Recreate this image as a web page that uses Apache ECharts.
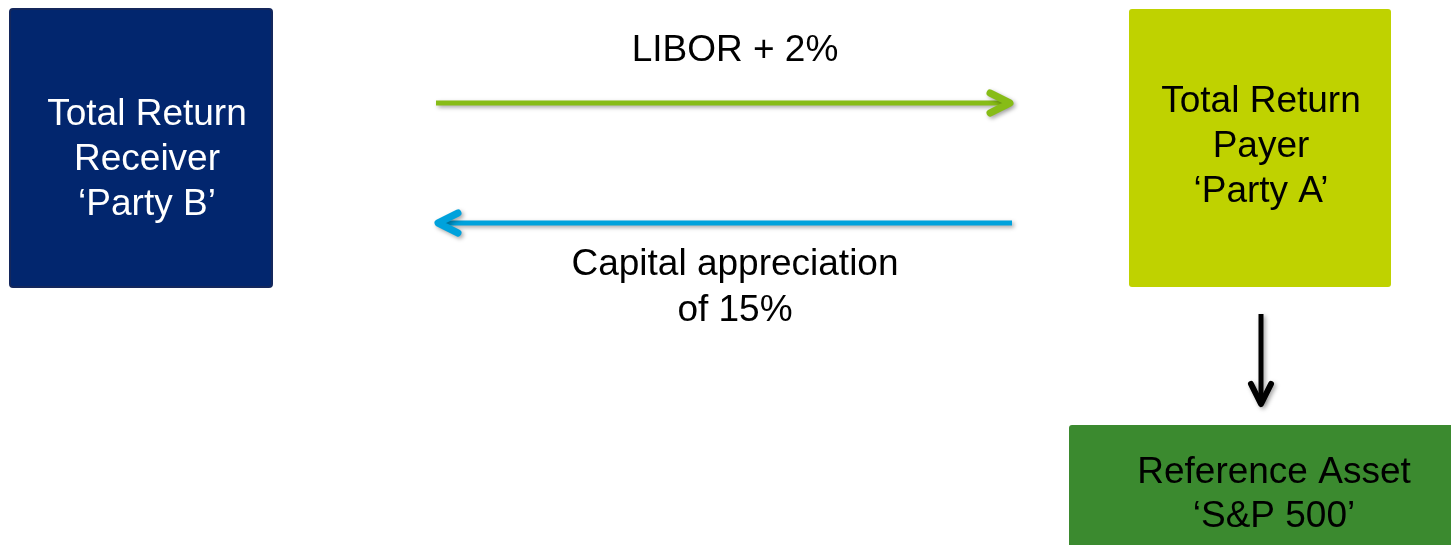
<!DOCTYPE html>
<html>
<head>
<meta charset="utf-8">
<script src="https://cdn.jsdelivr.net/npm/echarts@6/dist/echarts.min.js"></script>
<style>
  html, body { margin: 0; padding: 0; background: #fff; }
  #chart { width: 1451px; height: 545px; }
</style>
</head>
<body>
<div id="chart"></div>
<script>
// diagram units = pixels of the 1451 x 545 canvas (y grows downward)
const boxLabels = ['Total Return\nReceiver\n‘Party B’', 'Total Return\nPayer\n‘Party A’', 'Reference Asset\n‘S&P 500’']
const boxLeft = [10, 1129, 1069]
const boxRight = [272, 1391, 1470]
const boxTop = [9, 9, 425]
const boxBottom = [287, 287, 570]
const boxTextX = [147, 1261, 1274]
const boxTextY = [160, 147, 495]

const arrowFromX = [436, 1012, 1261]
const arrowFromY = [103, 223, 314]
const arrowToX = [1010, 438, 1261]
const arrowToY = [103, 223, 404]

const flowLabels = ['LIBOR + 2%', 'Capital appreciation\nof 15%']
const flowLabelX = [735, 735]
const flowLabelY = [51, 288]

// styles
const boxFill = ['#02266e', '#bfd200', '#3b8a2f']
const boxStroke = ['#14275c', null, null]
const boxTextColor = ['#ffffff', '#000000', '#000000']
const boxLineHeight = [45, 45, 44]
const arrowColor = ['#87bc17', '#00a2dc', '#000000']
const arrowWidth = [5, 5, 5]
const headWidth = [7, 7, 6]

const FONT = '37px "Liberation Sans", Arial, sans-serif'

const chart = echarts.init(document.getElementById('chart'), null, { renderer: 'canvas' })

function renderBox(params, api) {
  const i = params.dataIndex
  const p0 = api.coord([api.value(0), api.value(2)])
  const p1 = api.coord([api.value(1), api.value(3)])
  const t = api.coord([boxTextX[i], boxTextY[i]])
  return {
    type: 'group',
    children: [
      {
        type: 'rect',
        shape: { x: p0[0], y: p0[1], width: p1[0] - p0[0], height: p1[1] - p0[1], r: 3 },
        style: { fill: boxFill[i], stroke: boxStroke[i], lineWidth: boxStroke[i] ? 2 : 0 }
      },
      {
        type: 'text',
        style: {
          text: boxLabels[i], x: t[0], y: t[1], fill: boxTextColor[i], font: FONT,
          align: 'center', verticalAlign: 'middle', lineHeight: boxLineHeight[i]
        }
      }
    ]
  }
}

function renderArrow(params, api) {
  const i = params.dataIndex
  const a = api.coord([api.value(0), api.value(1)])
  const b = api.coord([api.value(2), api.value(3)])
  const dx = b[0] - a[0], dy = b[1] - a[1]
  const len = Math.sqrt(dx * dx + dy * dy)
  const ux = dx / len, uy = dy / len
  const back = 20, half = 10
  const l = [b[0] - ux * back - uy * half, b[1] - uy * back + ux * half]
  const r = [b[0] - ux * back + uy * half, b[1] - uy * back - ux * half]
  const shadow = { shadowBlur: 4, shadowOffsetX: 2, shadowOffsetY: 2, shadowColor: 'rgba(0,0,0,0.35)' }
  return {
    type: 'group',
    children: [
      {
        type: 'polyline',
        shape: { points: [a, [b[0] - ux * 3, b[1] - uy * 3]] },
        style: Object.assign({ stroke: arrowColor[i], lineWidth: arrowWidth[i], fill: null, lineCap: 'butt' }, shadow)
      },
      {
        type: 'polyline',
        shape: { points: [l, b, r] },
        style: Object.assign({ stroke: arrowColor[i], lineWidth: headWidth[i], fill: null, lineCap: 'round', lineJoin: 'round' }, shadow)
      }
    ]
  }
}

function renderLabel(params, api) {
  const p = api.coord([api.value(0), api.value(1)])
  return {
    type: 'text',
    style: {
      text: flowLabels[params.dataIndex], x: p[0], y: p[1], fill: '#000', font: FONT,
      align: 'center', verticalAlign: 'middle', lineHeight: 46
    }
  }
}

chart.setOption({
  animation: false,
  backgroundColor: '#ffffff',
  grid: { left: 0, right: 0, top: 0, bottom: 0 },
  xAxis: { type: 'value', min: 0, max: 1451, show: false },
  yAxis: { type: 'value', min: 0, max: 545, inverse: true, show: false },
  series: [
    {
      type: 'custom', name: 'boxes', clip: false,
      renderItem: renderBox,
      encode: { x: [0, 1], y: [2, 3] },
      data: boxLeft.map((v, i) => [v, boxRight[i], boxTop[i], boxBottom[i]])
    },
    {
      type: 'custom', name: 'arrows', clip: false,
      renderItem: renderArrow,
      encode: { x: [0, 2], y: [1, 3] },
      data: arrowFromX.map((v, i) => [v, arrowFromY[i], arrowToX[i], arrowToY[i]])
    },
    {
      type: 'custom', name: 'labels', clip: false,
      renderItem: renderLabel,
      encode: { x: 0, y: 1 },
      data: flowLabelX.map((v, i) => [v, flowLabelY[i]])
    }
  ]
})
</script>
</body>
</html>
